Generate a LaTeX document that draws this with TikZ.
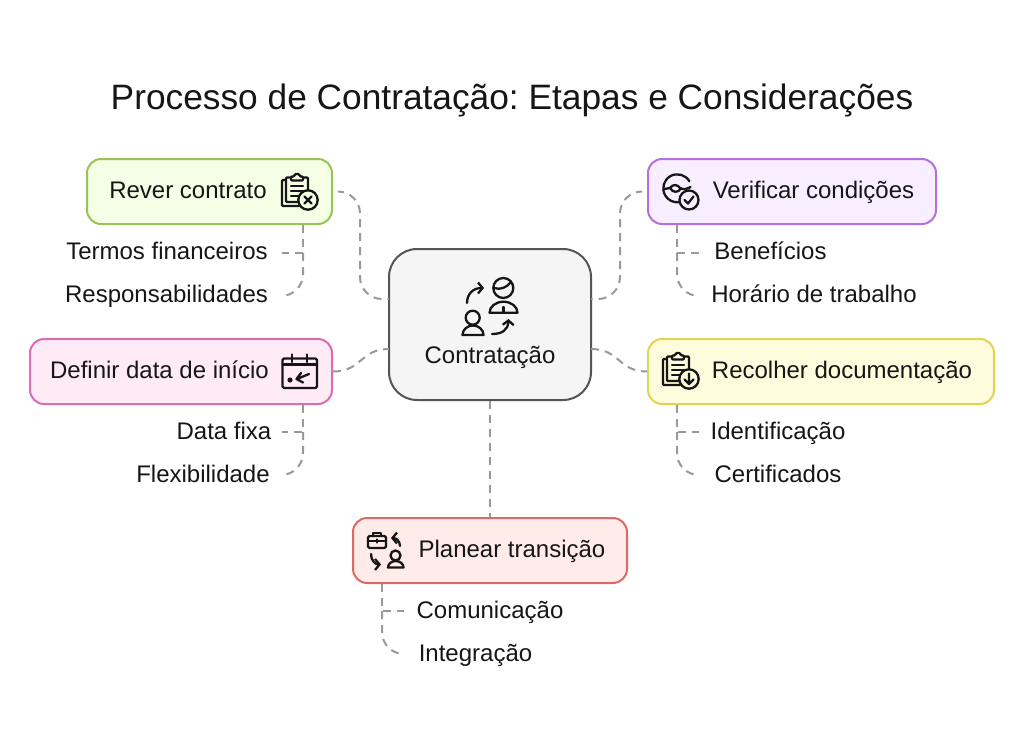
\documentclass[tikz,border=0pt]{standalone}
\usepackage{fontspec}
\setmainfont{Liberation Sans}
\usetikzlibrary{arrows.meta}
\frenchspacing
\definecolor{ink}{HTML}{161616}
\definecolor{dashc}{HTML}{999999}
\definecolor{cRev}{HTML}{9BC254}\definecolor{fRev}{HTML}{F4FFE6}
\definecolor{cVer}{HTML}{B76FDC}\definecolor{fVer}{HTML}{F8EEFF}
\definecolor{cDef}{HTML}{DA6BB5}\definecolor{fDef}{HTML}{FFEBF6}
\definecolor{cRec}{HTML}{E2D44F}\definecolor{fRec}{HTML}{FFFBDD}
\definecolor{cPla}{HTML}{DB6A62}\definecolor{fPla}{HTML}{FFECEA}
\definecolor{cCen}{HTML}{555555}\definecolor{fCen}{HTML}{F5F5F5}
\tikzset{
  box/.style={draw,line width=2pt,rounded corners=14pt,minimum height=65pt,inner sep=0pt},
  link/.style={draw=dashc,line width=2pt,dash pattern=on 8pt off 6pt,rounded corners=22pt},
  ico/.style={draw=ink,line width=2.3pt,line cap=round,line join=round},
  arrico/.style={ico,-{Straight Barb[length=4.5pt,width=11pt,line width=2.3pt]}},
  lab/.style={text=ink,font=\fontsize{24}{24}\selectfont,inner sep=0pt,anchor=base},
}
% clipboard: origin is the top-left of the icon, #1 = fill of the box
\newcommand{\iconclip}[1]{%
  \draw[ico,rounded corners=1pt] (3,5) -- (0,5) -- (0,31) -- (17,31);
  \draw[ico,rounded corners=1pt] (16,27) -- (4,27) -- (4,2.5) -- (9,2.5);
  \draw[ico,rounded corners=1pt] (21,2.5) -- (26,2.5) -- (26,14);
  \draw[ico,rounded corners=1pt] (9,5.5) -- (9,1.5) -- (12,1.5) -- (13,-1) -- (17,-1) -- (18,1.5) -- (21,1.5) -- (21,5.5) -- cycle;
  \draw[ico] (9,11) -- (21,11) (9,16) -- (21,16) (9,21) -- (17,21);
  \draw[ico,fill=#1] (26,25) circle (9.7);
}
\begin{document}
\begin{tikzpicture}[x=1pt,y=-1pt]
\useasboundingbox[fill=white] (0,0) rectangle (1024,729);
\node[lab,font=\fontsize{35.3}{36}\selectfont] (title) at (512,109) {Processo de Contratação: Etapas e Considerações};

% boxes
\node[box,draw=cCen,fill=fCen,rounded corners=28pt,minimum width=202pt,minimum height=151pt] (center) at (490,324.5) {};
\node[box,draw=cRev,fill=fRev,minimum width=245pt] (rever) at (209.5,191.5) {};
\node[box,draw=cVer,fill=fVer,minimum width=288pt] (verif) at (792,191.5) {};
\node[box,draw=cDef,fill=fDef,minimum width=302pt] (defin) at (181,371.5) {};
\node[box,draw=cRec,fill=fRec,minimum width=346pt] (recol) at (821,371.5) {};
\node[box,draw=cPla,fill=fPla,minimum width=274pt] (plane) at (490,550.5) {};

% labels
\node[lab] (t0) at (490,363) {Contratação};
\node[lab] (t1) at (188,198) {Rever contrato};
\node[lab] (t2) at (167,259) {Termos financeiros};
\node[lab] (t3) at (166.5,302) {Responsabilidades};
\node[lab] (t4) at (813.5,198) {Verificar condições};
\node[lab] (t5) at (770.5,259) {Benefícios};
\node[lab] (t6) at (814,302) {Horário de trabalho};
\node[lab] (t7) at (159.5,378) {Definir data de início};
\node[lab] (t8) at (224,439) {Data fixa};
\node[lab] (t9) at (203,482) {Flexibilidade};
\node[lab] (t10) at (842,378) {Recolher documentação};
\node[lab] (t11) at (778,439) {Identificação};
\node[lab] (t12) at (778,482) {Certificados};
\node[lab] (t13) at (512,557) {Planear transição};
\node[lab] (t14) at (490,618) {Comunicação};
\node[lab] (t15) at (475.5,661) {Integração};

% routing coordinates
\coordinate (jl) at (360,245);
\coordinate (jr) at (620,245);
\coordinate (cl1) at (389,299);
\coordinate (cr1) at (591,299);
\coordinate (cl2) at (389,349);
\coordinate (cr2) at (591,349);
\coordinate (s1) at (303,253);
\coordinate (s2) at (677,253);
\coordinate (s3) at (303,432);
\coordinate (s4) at (677,432);
\coordinate (s5) at (382,611);
\coordinate (e1a) at (282,253); \coordinate (e1b) at (281,296);
\coordinate (e2a) at (699,253); \coordinate (e2b) at (699,296);
\coordinate (e3a) at (282,432); \coordinate (e3b) at (281,475);
\coordinate (e4a) at (699,432); \coordinate (e4b) at (699,475);
\coordinate (e5a) at (404,611); \coordinate (e5b) at (404,654);

% connectors to the centre
\draw[link,shorten <=7pt] (rever.east) -- (jl |- rever.east) -- (jl |- cl1) -- (cl1);
\draw[link,shorten <=7pt] (verif.west) -- (jr |- verif.west) -- (jr |- cr1) -- (cr1);
\draw[link] (defin.east) .. controls (362,371.5) and (360,349) .. (cl2);
\draw[link] (cr2) .. controls (620,349) and (618,371.5) .. (recol.west);
\draw[link] (center.south) -- (plane.north);

% branches
\draw[link,rounded corners=0pt] (s1 |- rever.south) -- (s1) -- (e1a);
\draw[link] (s1) -- (s1 |- e1b) -- (e1b);
\draw[link,rounded corners=0pt] (s2 |- verif.south) -- (s2) -- (e2a);
\draw[link] (s2) -- (s2 |- e2b) -- (e2b);
\draw[link,rounded corners=0pt] (s3 |- defin.south) -- (s3) -- (e3a);
\draw[link] (s3) -- (s3 |- e3b) -- (e3b);
\draw[link,rounded corners=0pt] (s4 |- recol.south) -- (s4) -- (e4a);
\draw[link] (s4) -- (s4 |- e4b) -- (e4b);
\draw[link,rounded corners=0pt] (s5 |- plane.south) -- (s5) -- (e5a);
\draw[link] (s5) -- (s5 |- e5b) -- (e5b);

% icon: centre
\draw[ico] (503.3,288) circle (10);
\draw[ico] (494,288) .. controls (500,290) and (507,288) .. (511,281.5);
\draw[ico] (489.5,312.7) -- (517.5,312.7) arc (0:-180:14 and 11) -- cycle;
\draw[ico] (503.5,307) -- (503.5,312);
\draw[ico] (472.7,317.7) circle (7);
\draw[ico] (462.5,335) -- (483.5,335) arc (0:-180:10.5 and 9.5) -- cycle;
\draw[arrico] (467,303) .. controls (467,294) and (473,288) .. (484,288);
\draw[arrico] (492,334) .. controls (502,334) and (508,330) .. (508.5,319);

% icon: Rever contrato
\begin{scope}[shift={(282,175)}]
  \iconclip{fRev}
  \draw[ico] (22.5,21.5) -- (29.5,28.5) (29.5,21.5) -- (22.5,28.5);
\end{scope}

% icon: Recolher documentação
\begin{scope}[shift={(663,354)}]
  \iconclip{fRec}
  \draw[ico] (26,19.5) -- (26,30) (21.5,25.5) -- (26,30) -- (30.5,25.5);
\end{scope}

% icon: Verificar condições
\draw[ico] (689.4,181.3) arc (-30:-275:14);
\draw[ico] (664.5,189) -- (670,188) .. controls (673,184) and (677,184) .. (680,188) .. controls (683,190) and (687,189) .. (690.5,187);
\draw[ico] (670,188) .. controls (673,193) and (678,193) .. (681,188.5);
\draw[ico,fill=fVer] (689,200) circle (9.5);
\draw[ico] (684.5,200) -- (688,203.5) -- (693.5,196.5);

% icon: Definir data de início
\draw[ico,rounded corners=1.5pt] (282.5,358.5) rectangle (317,388);
\draw[ico] (282.5,364.5) -- (317,364.5);
\draw[ico] (292,354.5) -- (292,362) (307,354.5) -- (307,362);
\fill[ink] (290,380) circle (2.6);
\draw[ico] (309,374) -- (297,379) (301,373) -- (296.5,379) -- (303,382.5);

% icon: Planear transição
\draw[ico,rounded corners=1.5pt] (368,536) rectangle (386,548);
\draw[ico] (373,536) -- (373,533) -- (381,533) -- (381,536);
\draw[ico] (368,541) -- (386,541);
\draw[ico] (377,539.5) -- (377,542.5);
\draw[ico] (395.5,555.5) circle (5);
\draw[ico] (388,567.5) -- (403.5,567.5) arc (0:-180:7.75 and 6.5) -- cycle;
\draw[arrico] (400,546) .. controls (400,541) and (396,538) .. (391,538);
\draw[arrico] (371,554) .. controls (371,560) and (375,564.5) .. (381,564.5);
\end{tikzpicture}
\end{document}
